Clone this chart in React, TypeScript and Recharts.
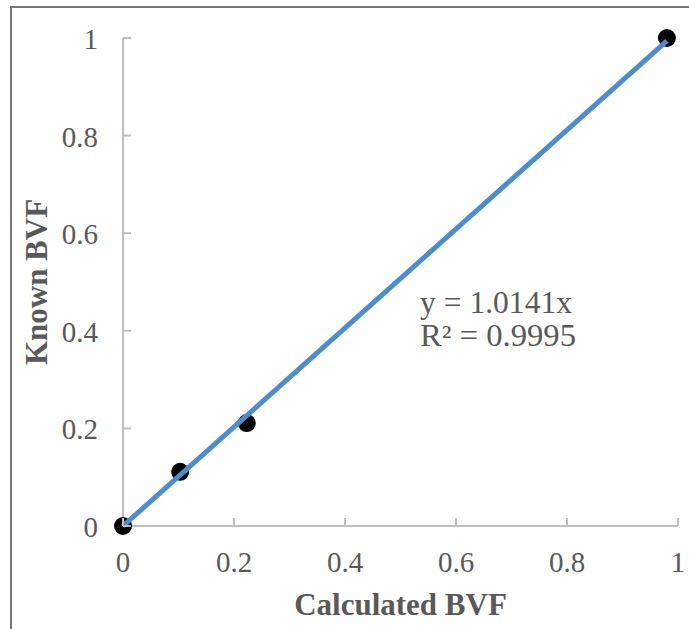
import React from 'react';
import { ScatterChart, Scatter, XAxis, YAxis, Label } from 'recharts';

const xTicks = [0, 0.2, 0.4, 0.6, 0.8, 1];
const yTicks = [0, 0.2, 0.4, 0.6, 0.8, 1];

const calculatedBvf = [0, 0.103, 0.223, 0.98];
const knownBvf = [0, 0.111, 0.211, 1.0];

// trendline end points
const trendX = [0, 0.98];
const trendY = [0, 0.994];

const equationLines = ['y = 1.0141x', 'R² = 0.9995'];
const equationWidths = [152, 156];

const points = calculatedBvf.map((x, i) => ({ x, y: knownBvf[i] }));
const trend = trendX.map((x, i) => ({ x, y: trendY[i] }));

const FONT = '"Liberation Serif", "Times New Roman", serif';
const TEXT = '#595959';
const AXIS = '#bfbfbf';

function XTick(props: any) {
  const { x, y, payload } = props;
  return (
    <g>
      <line x1={x} y1={y} x2={x} y2={y - 8} stroke={AXIS} strokeWidth={2} />
      <text x={x} y={y + 46} textAnchor="middle" fill={TEXT} fontSize={29} fontFamily={FONT}>
        {payload.value}
      </text>
    </g>
  );
}

function YTick(props: any) {
  const { x, y, payload } = props;
  return (
    <g>
      <line x1={x} y1={y} x2={x + 8} y2={y} stroke={AXIS} strokeWidth={2} />
      <text x={x - 25} y={y + 11} textAnchor="end" fill={TEXT} fontSize={29} fontFamily={FONT}>
        {payload.value}
      </text>
    </g>
  );
}

const Dot = (p: any) => <circle cx={p.cx} cy={p.cy} r={9} fill="#000" />;
const NoShape = () => <g />;

export default function App() {
  return (
    <div style={{ position: 'absolute', left: 0, top: 0, width: 689, height: 629, overflow: 'hidden', background: '#fff' }}>
      <div
        style={{
          position: 'absolute',
          left: 10,
          top: 6,
          width: 800,
          height: 800,
          borderLeft: '2px solid #777',
          borderTop: '2px solid #777',
        }}
      />
      <div style={{ position: 'absolute', left: 0, top: 0 }}>
        <ScatterChart width={689} height={629} margin={{ top: 38, right: 11, bottom: 0, left: 0 }}>
          <XAxis
            type="number"
            dataKey="x"
            domain={[0, 1]}
            ticks={xTicks}
            height={103}
            tickSize={0}
            tickMargin={0}
            tickLine={false}
            axisLine={{ stroke: AXIS, strokeWidth: 2 }}
            tick={(p: any) => <XTick {...p} />}
          >
            <Label
              content={(p: any) => {
                const vb = p.viewBox;
                return (
                  <text
                    x={vb.x + vb.width / 2}
                    y={615}
                    textAnchor="middle"
                    fill={TEXT}
                    fontSize={31}
                    fontWeight="bold"
                    fontFamily={FONT}
                  >
                    Calculated BVF
                  </text>
                );
              }}
            />
          </XAxis>
          <YAxis
            type="number"
            dataKey="y"
            domain={[0, 1]}
            ticks={yTicks}
            width={123}
            tickSize={0}
            tickMargin={0}
            tickLine={false}
            axisLine={{ stroke: AXIS, strokeWidth: 2 }}
            tick={(p: any) => <YTick {...p} />}
          >
            <Label
              content={(p: any) => {
                const vb = p.viewBox;
                const cx = 47;
                const cy = vb.y + vb.height / 2;
                return (
                  <text
                    x={cx}
                    y={cy}
                    transform={`rotate(-90 ${cx} ${cy})`}
                    textAnchor="middle"
                    fill={TEXT}
                    fontSize={31}
                    fontWeight="bold"
                    fontFamily={FONT}
                  >
                    Known BVF
                  </text>
                );
              }}
            />
          </YAxis>
          <Scatter data={points} shape={Dot} isAnimationActive={false} />
          <Scatter
            data={trend}
            line={{ stroke: '#4e8ccb', strokeWidth: 5 }}
            shape={NoShape}
            isAnimationActive={false}
          />
        </ScatterChart>
      </div>
      <svg width={689} height={629} style={{ position: 'absolute', left: 0, top: 0, pointerEvents: 'none' }}>
        {equationLines.map((t, i) => (
          <text
            key={t}
            x={420}
            y={313 + i * 33}
            fill={TEXT}
            fontSize={31}
            fontFamily={FONT}
            textLength={equationWidths[i]}
            lengthAdjust="spacingAndGlyphs"
          >
            {t}
          </text>
        ))}
      </svg>
    </div>
  );
}
